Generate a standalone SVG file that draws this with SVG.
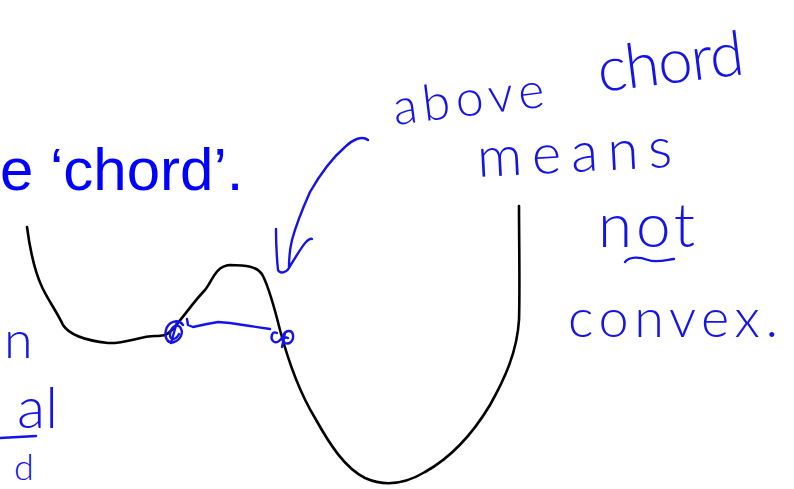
<svg xmlns="http://www.w3.org/2000/svg" width="794" height="489" viewBox="0 0 794 489">
<style>
.pen{fill:none;stroke:#1414e6;stroke-width:2.4;stroke-linecap:round;stroke-linejoin:round}
.ink{fill:none;stroke:#000;stroke-width:2.6;stroke-linecap:round;stroke-linejoin:round}
.hand{font-family:Lato,"DejaVu Sans",sans-serif;font-weight:300;fill:#1414e6}
.print{font-family:"Liberation Sans",Arial,sans-serif;fill:#0000ff}
</style>
<rect width="794" height="489" fill="#fff"/>
<g id="printed-text">
<text class="print" x="0" y="190" font-size="60">e ‘chord’.</text>
</g>
<g id="curve">
<path class="ink" d="M27,227 C30,250 35,272 42,287 C48,300 57,312 63,325 C70,336 90,341 108,343 C125,344 140,336 155,336 C162,336 166,336 172,330 C185,315 195,300 205,290 C212,282 215,266 230,265 C245,265 258,266 263,276 C270,290 275,310 280,330 C288,360 298,390 315,418 C330,445 345,468 365,478 C385,487 405,484 425,472 C450,458 472,435 490,405 C505,378 517,352 519,320 C520,290 519,240 519,206"/>
</g>
<g id="connectors">
<path id="chord-line" class="pen" d="M187,319 L188,325 L193,327 L207,324 L218,322 L230,323 L250,326 L270,329"/>
<path id="left-mark" class="pen" d="M183,325 C178,318 168,322 166,330 C164,338 168,344 174,342 C181,340 184,332 180,327 C176,323 170,328 170,335 C170,341 176,340 179,334 M177,322 L171,343"/>
<path id="right-mark" class="pen" d="M277,333 C272,330 270,338 273,341 C276,344 281,341 283,336 C285,330 292,329 293,335 C294,341 289,345 285,343 C282,341 284,336 288,338 M285,333 L282,347"/>
<path id="arrow" class="pen" d="M368,140 C362,135 352,140 345,147 C330,160 318,178 310,192 C302,210 296,225 292,240 C289,252 289,262 289,268 M276,229 C276,245 277,260 278,270 C280,274 286,273 289,268 C295,258 302,246 306,242 C308,240 310,238 312,239"/>
</g>
<g id="annotation">
<text class="hand" x="395" y="125" font-size="50" textLength="152" lengthAdjust="spacing" transform="rotate(-7 395 125)">above</text>
<text class="hand" x="600" y="92" font-size="62" textLength="147" lengthAdjust="spacing" transform="rotate(-7 600 92)">chord</text>
<text class="hand" x="478" y="177" font-size="56" textLength="195" lengthAdjust="spacing" transform="rotate(-3 478 177)">means</text>
<text class="hand" x="598" y="247" font-size="62" textLength="97" lengthAdjust="spacing">not</text>
<path class="pen" d="M625,262 C630,256 640,257 648,260 C656,263 666,260 674,259"/>
<text class="hand" x="568" y="337" font-size="54" textLength="210" lengthAdjust="spacing">convex.</text>
</g>
<g id="left-fragments">
<text class="hand" x="4" y="358" font-size="52">n</text>
<text class="hand" x="58" y="428" font-size="58" text-anchor="end">al</text>
<path class="pen" d="M0,438 L36,436"/>
<text class="hand" x="14" y="480" font-size="36">d</text>
</g>
</svg>
